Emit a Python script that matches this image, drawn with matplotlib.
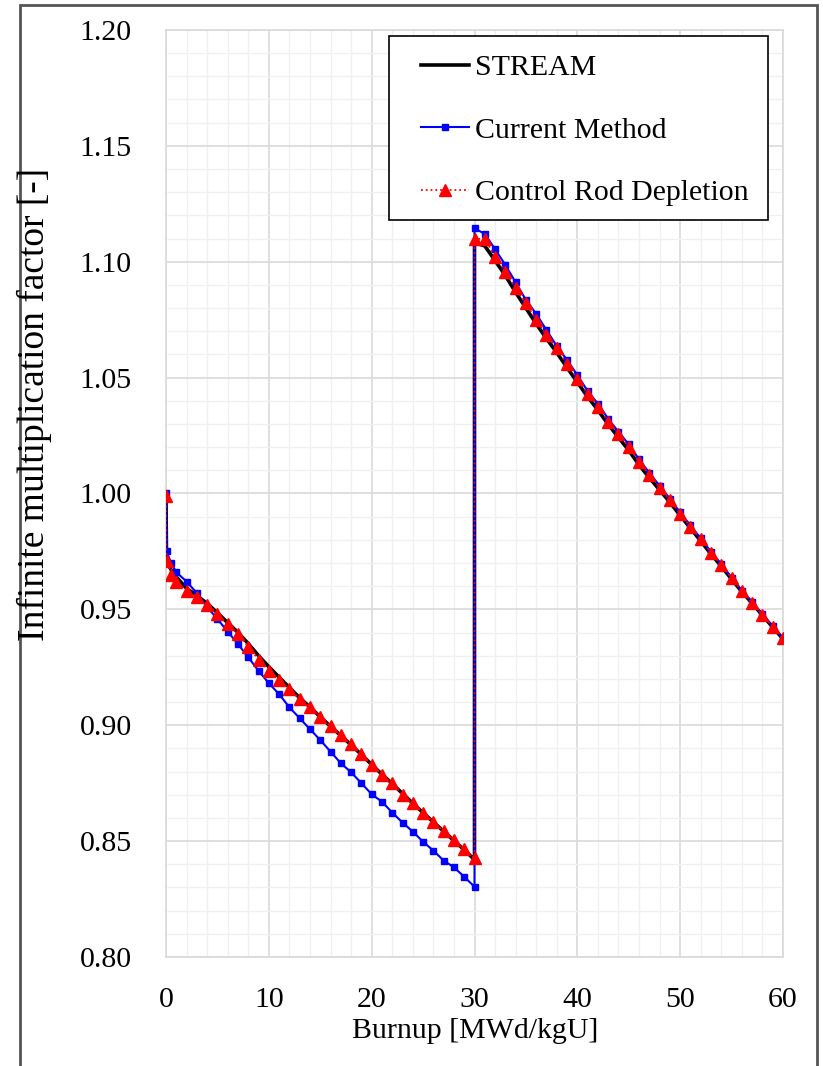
import numpy as np
import matplotlib
matplotlib.use("Agg")
import matplotlib.pyplot as plt
from matplotlib.patches import Rectangle
from matplotlib.lines import Line2D

plt.rcParams['font.family'] = ['Liberation Serif', 'DejaVu Serif']

# ---------------------------------
# DATA
# ---------------------------------
burnup_c1 = [0, 0.05, 0.5] + list(range(1, 31))
burnup_c2 = list(range(30, 61))
burnup = np.array(burnup_c1 + burnup_c2, dtype=float)

stream_c1 = [1.000, 0.971, 0.967, 0.964, 0.959, 0.956, 0.9525, 0.9485, 0.9442, 0.9400,
             0.9352, 0.9300, 0.9252, 0.9207, 0.9162, 0.9118, 0.9078, 0.9036, 0.8995, 0.8955,
             0.8915, 0.8873, 0.8830, 0.8788, 0.8748, 0.8705, 0.8663, 0.8622, 0.8582, 0.8542,
             0.8502, 0.8462, 0.8420]
stream_c2 = [1.1082, 1.1068, 1.1005, 1.0940, 1.0868, 1.0800, 1.0732, 1.0668, 1.0608, 1.0543,
             1.0480, 1.0417, 1.0360, 1.0298, 1.0242, 1.0186, 1.0123, 1.0068, 1.0015, 0.9962,
             0.9905, 0.9850, 0.9795, 0.9738, 0.9686, 0.9630, 0.9576, 0.9526, 0.9474, 0.9423,
             0.9372]

current_c1 = [1.000, 0.975, 0.970, 0.966, 0.962, 0.957, 0.951, 0.9458, 0.9404, 0.935,
              0.9293, 0.9235, 0.9181, 0.9134, 0.9077, 0.903, 0.8983, 0.8936, 0.8886, 0.8836,
              0.8797, 0.875, 0.8702, 0.867, 0.8623, 0.858, 0.8541, 0.8497, 0.8459, 0.8416,
              0.8387, 0.8346, 0.8303]
current_c2 = [1.1144, 1.112, 1.1054, 1.0986, 1.0911, 1.0835, 1.0775, 1.0705, 1.0636, 1.0576,
              1.0511, 1.0442, 1.0387, 1.0322, 1.0266, 1.0212, 1.0147, 1.0089, 1.0033, 0.9977,
              0.9918, 0.9862, 0.9806, 0.9749, 0.9695, 0.9637, 0.9581, 0.9531, 0.9478, 0.9426,
              0.9376]

crd_c1 = [0.999, 0.971, 0.965, 0.962, 0.958, 0.9555, 0.952, 0.948, 0.9435, 0.9395,
          0.9338, 0.9283, 0.9235, 0.9195, 0.9155, 0.9113, 0.9077, 0.9037, 0.8997, 0.8958,
          0.8918, 0.8876, 0.883, 0.8786, 0.875, 0.870, 0.8663, 0.8623, 0.8584, 0.8545,
          0.8505, 0.8465, 0.8426]
crd_c2 = [1.110, 1.1097, 1.1022, 1.0957, 1.0885, 1.082, 1.0749, 1.0684, 1.0626, 1.0559,
          1.0494, 1.0430, 1.0375, 1.031, 1.0255, 1.0202, 1.0137, 1.008, 1.0025, 0.997,
          0.9912, 0.9857, 0.9802, 0.9745, 0.9692, 0.9634, 0.9579, 0.9529, 0.9476, 0.9425,
          0.9375]

stream = np.array(stream_c1 + stream_c2)
current = np.array(current_c1 + current_c2)
crd = np.array(crd_c1 + crd_c2)

x_ticks = [0, 10, 20, 30, 40, 50, 60]
y_ticks = [0.80, 0.85, 0.90, 0.95, 1.00, 1.05, 1.10, 1.15, 1.20]

# ---------------------------------
# PLOT
# ---------------------------------
fig = plt.figure(figsize=(8.23, 10.66), dpi=100)
ax = fig.add_axes([0.2017, 0.1023, 0.7497, 0.8696])

ax.plot(burnup, stream, color='black', lw=2.6, zorder=3)
ax.plot(burnup, current, color='#0000ff', lw=1.5, marker='s', ms=4.5, zorder=4)
ax.plot(burnup, crd, color='#ff0000', lw=1.3, ls=':', marker='^', ms=8, zorder=5)

ax.set_xlim(0, 60)
ax.set_ylim(0.80, 1.20)
ax.set_xticks(x_ticks)
ax.set_yticks(y_ticks)
ax.set_xticks(np.arange(0, 61, 2), minor=True)
ax.set_yticks(np.arange(0.80, 1.2001, 0.01), minor=True)
ax.set_yticklabels([f"{v:.2f}" for v in y_ticks])
ax.tick_params(which='both', length=0, labelsize=21.5)
ax.tick_params(axis='y', pad=24.5)
ax.tick_params(axis='x', pad=21.5)

ax.grid(which='major', color='#d9d9d9', lw=1.2, zorder=0)
ax.grid(which='minor', color='#f0f0f0', lw=1.0, zorder=0)
ax.set_axisbelow(True)
for sp in ax.spines.values():
    sp.set_color('#d9d9d9')
    sp.set_linewidth(1.2)

fig.text(475 / 823, 1 - 1031 / 1066, "Burnup [MWd/kgU]", ha='center', va='center', fontsize=21.5)
fig.text(34 / 823, 1 - 404 / 1066, "Infinite multiplication factor [-]", ha='center', va='center',
         rotation=90, fontsize=27)

# legend box drawn by hand so its padding matches
ax.add_patch(Rectangle((0.361, 0.795), 0.615, 0.1985, transform=ax.transAxes,
                       facecolor='white', edgecolor='black', lw=1.2, zorder=6, clip_on=False))
handles = [
    Line2D([], [], color='black', lw=2.6),
    Line2D([], [], color='#0000ff', lw=1.5, marker='s', ms=4.5),
    Line2D([], [], color='#ff0000', lw=1.3, ls=':', marker='^', ms=8),
]
leg = ax.legend(handles, ["STREAM", "Current Method", "Control Rod Depletion"],
                loc='upper left', bbox_to_anchor=(0.413, 0.974), frameon=False,
                fontsize=21.5, borderpad=0, borderaxespad=0, handlelength=1.6,
                handletextpad=0.2, labelspacing=1.2)
leg.set_zorder(7)

# outer frame
fig.patches.append(Rectangle((20 / 823, -0.01), (817 - 20) / 823, 1.01 - 5 / 1066,
                             transform=fig.transFigure, fill=False, edgecolor='#555555', lw=2))

fig.savefig("out.png", dpi=100)
